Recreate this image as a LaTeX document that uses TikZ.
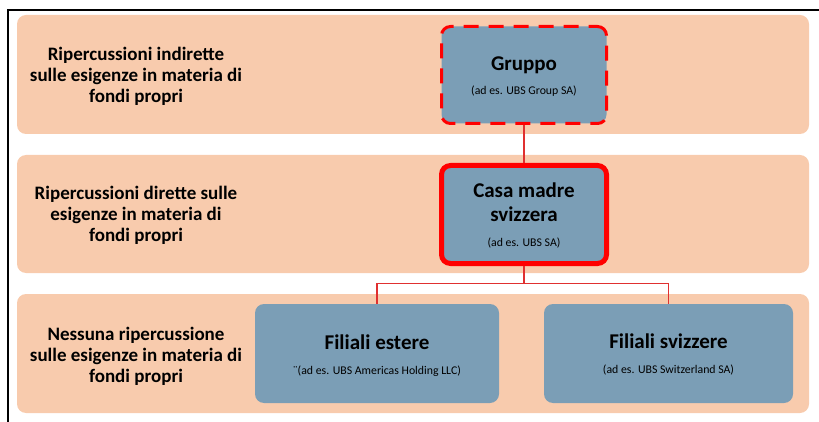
\documentclass[tikz,border=0pt]{standalone}
\usepackage{fontspec}
\setmainfont{Carlito}
\definecolor{bandc}{HTML}{F8CBAD}
\definecolor{boxc}{HTML}{7B9EB6}
\definecolor{redc}{HTML}{FF0000}
\definecolor{connc}{HTML}{E03030}
\begin{document}
\begin{tikzpicture}[x=1pt,y=-1pt,
  band/.style={fill=bandc, rounded corners=9pt, inner sep=0pt, minimum width=792pt, minimum height=119pt},
  entity/.style={fill=boxc, rounded corners=9pt, inner sep=0pt},
  lbl/.style={align=center, inner sep=0pt, font=\fontsize{19}{21}\selectfont\bfseries},
  ttl/.style={anchor=base, inner sep=0pt, font=\fontsize{21}{24}\selectfont\bfseries},
  subt/.style={anchor=base, inner sep=0pt, font=\fontsize{11.8}{14}\selectfont},
  conn/.style={draw=connc, line width=1.2pt}]
\useasboundingbox (0,0) rectangle (819,422);
% frame
\draw[line width=2pt] (8,422) -- (8,10.5) -- (819,10.5);
% bands
\node[band] (b1) at (413,74.5) {};
\node[band, minimum height=118pt] (b2) at (413,214) {};
\node[band] (b3) at (413,353.5) {};
% band labels
\node[lbl] (l1) at (136,76.5) {Ripercussioni indirette\\sulle esigenze in materia di\\fondi propri};
\node[lbl] (l2) at (136,215.5) {Ripercussioni dirette sulle\\esigenze in materia di\\fondi propri};
\node[lbl] (l3) at (136,356.5) {Nessuna ripercussione\\sulle esigenze in materia di\\fondi propri};
% entities
\node[entity, draw=redc, line width=3pt, dash pattern=on 15pt off 10pt, dash phase=6pt, minimum width=165pt, minimum height=97pt] (gr) at (524,75) {};
\node[entity, draw=redc, line width=5pt, minimum width=165pt, minimum height=98pt] (cm) at (524,214.5) {};
\node[entity, minimum width=244pt, minimum height=99pt] (fe) at (377,353.5) {};
\node[entity, minimum width=249pt, minimum height=99pt] (fs) at (668.5,353.5) {};
% connectors
\draw[conn] (gr.south) -- (cm.north);
\draw[conn] (cm.south) -- ++(0,17.5) coordinate (j);
\draw[conn] (j) -| (fe.north);
\draw[conn] (j) -| (fs.north);
% texts
\node[ttl] (grt) at (524,71) {Gruppo};
\node[subt] (grs) at (524,95) {(ad es. UBS Group SA)};
\node[ttl] (cmt1) at (524,198) {Casa madre};
\node[ttl] (cmt2) at (524,222) {svizzera};
\node[subt] (cms) at (524,247) {(ad es. UBS SA)};
\node[ttl] (fet) at (377,349) {Filiali estere};
\node[subt] (fes) at (377,374) {¨(ad es. UBS Americas Holding LLC)};
\node[ttl] (fst) at (668.5,348) {Filiali svizzere};
\node[subt] (fss) at (668.5,373) {(ad es. UBS Switzerland SA)};
\end{tikzpicture}
\end{document}
